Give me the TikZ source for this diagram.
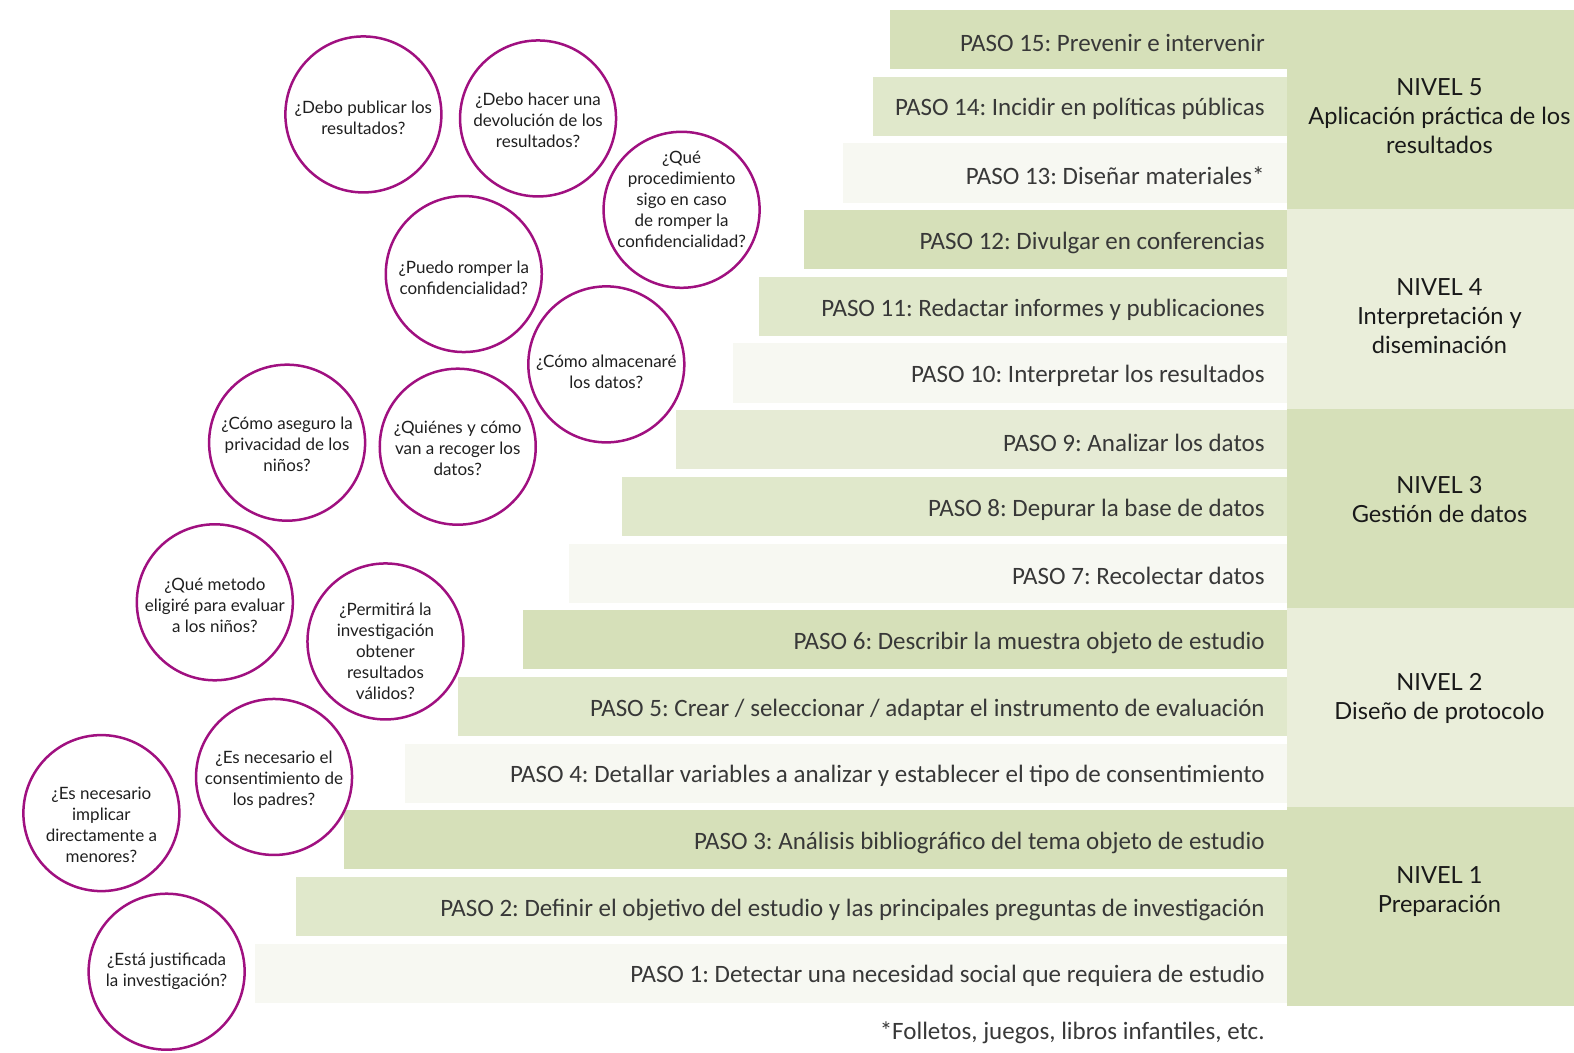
\documentclass[tikz,border=0pt]{standalone}
\usepackage{fontspec}
\setmainfont{Lato}
\newfontfamily\pasofont{Carlito}
\usetikzlibrary{positioning}
\definecolor{verdeA}{HTML}{D6E0B9}
\definecolor{verdeB}{HTML}{E0E8CB}
\definecolor{verdeC}{HTML}{F7F8F2}
\definecolor{verdeD}{HTML}{E6EBD5}
\definecolor{verdeN}{HTML}{EAEEDA}
\definecolor{morado}{RGB}{160,16,128}
\frenchspacing

\begin{document}
\begin{tikzpicture}[
    x=1.0038pt, y=-1.0038pt,
    pasotxt/.style={anchor=east, inner sep=0pt, text=black!78, font=\pasofont\fontsize{25}{29}\selectfont},
    nivel/.style={align=center, inner sep=0pt, text=black!90, font=\fontsize{23.6}{29}\selectfont},
    pregunta/.style={circle, draw=morado, line width=2.5pt, minimum size=156pt, inner sep=0pt},
    pregtxt/.style={align=center, inner sep=0pt, text=black!88, font=\fontsize{17}{21}\selectfont}
]
    \useasboundingbox (0,0) rectangle (1568,1048);

    % Niveles
    \fill[verdeA] (1282,10) rectangle (1568,208.5);
    \fill[verdeN] (1282,208.5) rectangle (1568,407);
    \fill[verdeA] (1282,407) rectangle (1568,605.5);
    \fill[verdeN] (1282,605.5) rectangle (1568,804);
    \fill[verdeA] (1282,804) rectangle (1568,1002.5);

    % Barras de los pasos
    \foreach \k/\x/\c in {15/887/verdeA, 14/870/verdeB, 13/840/verdeC,
                          12/801/verdeA, 11/756/verdeB, 10/730/verdeC,
                          9/673/verdeD, 8/620/verdeB, 7/567/verdeC,
                          6/521/verdeA, 5/456/verdeB, 4/403/verdeC,
                          3/343/verdeA, 2/295/verdeB, 1/254/verdeC} {
        \fill[\c] (\x,{10+(15-\k)*66.43}) rectangle (1282,{69+(15-\k)*66.43});
    }

    \node[pasotxt] (p15) at (1260,42.5) {PASO 15: Prevenir e intervenir};
    \node[pasotxt] (p14) at (1260,108.9) {PASO 14: Incidir en políticas públicas};
    \node[pasotxt] (p13) at (1260,175.4) {PASO 13: Diseñar materiales*};
    \node[pasotxt] (p12) at (1260,241.8) {PASO 12: Divulgar en conferencias};
    \node[pasotxt] (p11) at (1260,308.2) {PASO 11: Redactar informes y publicaciones};
    \node[pasotxt] (p10) at (1260,374.7) {PASO 10: Interpretar los resultados};
    \node[pasotxt] (p9) at (1260,441.1) {PASO 9: Analizar los datos};
    \node[pasotxt] (p8) at (1260,507.5) {PASO 8: Depurar la base de datos};
    \node[pasotxt] (p7) at (1260,573.9) {PASO 7: Recolectar datos};
    \node[pasotxt] (p6) at (1260,640.4) {PASO 6: Describir la muestra objeto de estudio};
    \node[pasotxt] (p5) at (1260,706.8) {PASO 5: Crear / seleccionar / adaptar el instrumento de evaluación};
    \node[pasotxt] (p4) at (1260,773.2) {PASO 4: Detallar variables a analizar y establecer el tipo de consentimiento};
    \node[pasotxt] (p3) at (1260,839.7) {PASO 3: Análisis bibliográfico del tema objeto de estudio};
    \node[pasotxt] (p2) at (1260,906.1) {PASO 2: Definir el objetivo del estudio y las principales preguntas de investigación};
    \node[pasotxt] (p1) at (1260,972.5) {PASO 1: Detectar una necesidad social que requiera de estudio};

    \node[pasotxt] (nota) at (1260,1029) {*Folletos, juegos, libros infantiles, etc.};

    % Textos de nivel
    \node[nivel] (n5) at (1434,116) {NIVEL 5\\Aplicación práctica de los\\resultados};
    \node[nivel] (n4) at (1434,315) {NIVEL 4\\Interpretación y\\diseminación};
    \node[nivel] (n3) at (1434,498) {NIVEL 3\\Gestión de datos};
    \node[nivel] (n2) at (1434,696) {NIVEL 2\\Diseño de protocolo};
    \node[nivel] (n1) at (1434,888) {NIVEL 1\\Preparación};

    % Preguntas
    \node[pregunta] (q1) at (362,114) {};
    \node[pregunta] (q2) at (536,118) {};
    \node[pregunta] (q3) at (679,209) {};
    \node[pregunta] (q4) at (462,273) {};
    \node[pregunta] (q5) at (604,363) {};
    \node[pregunta] (q6) at (286,441) {};
    \node[pregunta] (q7) at (456,445) {};
    \node[pregunta] (q8) at (214,600) {};
    \node[pregunta] (q9) at (384,639) {};
    \node[pregunta] (q10) at (273,774) {};
    \node[pregunta] (q11) at (101,810) {};
    \node[pregunta] (q12) at (166,968) {};

    \node[pregtxt] (t1) at (362,117) {¿Debo publicar los\\resultados?};
    \node[pregtxt] (t2) at (536,119.5) {¿Debo hacer una\\devolución de los\\resultados?};
    \node[pregtxt] (t3) at (679,198.5) {¿Qué\\procedimiento\\sigo en caso\\de romper la\\confidencialidad?};
    \node[pregtxt] (t4) at (462,277) {¿Puedo romper la\\confidencialidad?};
    \node[pregtxt] (t5) at (604,370) {¿Cómo almacenaré\\los datos?};
    \node[pregtxt] (t6) at (286,442.5) {¿Cómo aseguro la\\privacidad de los\\niños?};
    \node[pregtxt] (t7) at (456,446.5) {¿Quiénes y cómo\\van a recoger los\\datos?};
    \node[pregtxt] (t8) at (214,602.5) {¿Qué metodo\\eligiré para evaluar\\a los niños?};
    \node[pregtxt] (t9) at (384,648.5) {¿Permitirá la\\investigación\\obtener\\resultados\\válidos?};
    \node[pregtxt] (t10) at (273,776.5) {¿Es necesario el\\consentimiento de\\los padres?};
    \node[pregtxt] (t11) at (101,821.5) {¿Es necesario\\implicar\\directamente a\\menores?};
    \node[pregtxt] (t12) at (166,967.5) {¿Está justificada\\la investigación?};
\end{tikzpicture}
\end{document}
